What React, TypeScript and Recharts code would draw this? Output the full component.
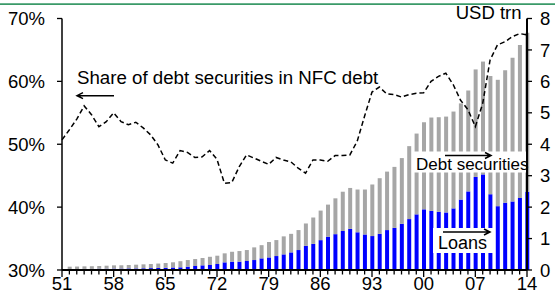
import React from 'react';
import { ComposedChart, Bar, Line, XAxis, YAxis } from 'recharts';

const FONT = '"Liberation Sans", Arial, sans-serif';

const years = [
  1951, 1952, 1953, 1954, 1955, 1956, 1957, 1958, 1959, 1960,
  1961, 1962, 1963, 1964, 1965, 1966, 1967, 1968, 1969, 1970,
  1971, 1972, 1973, 1974, 1975, 1976, 1977, 1978, 1979, 1980,
  1981, 1982, 1983, 1984, 1985, 1986, 1987, 1988, 1989, 1990,
  1991, 1992, 1993, 1994, 1995, 1996, 1997, 1998, 1999, 2000,
  2001, 2002, 2003, 2004, 2005, 2006, 2007, 2008, 2009, 2010,
  2011, 2012, 2013, 2014,
];

// Total NFC debt (loans + debt securities), USD trn
const totalDebt = [
  null, 0.106, 0.11, 0.116, 0.12, 0.127, 0.137, 0.148, 0.15, 0.159,
  0.169, 0.18, 0.19, 0.205, 0.222, 0.245, 0.28, 0.317, 0.349, 0.381,
  0.42, 0.455, 0.53, 0.58, 0.603, 0.635, 0.72, 0.79, 0.89, 0.952,
  1.07, 1.15, 1.27, 1.48, 1.67, 1.89, 2.08, 2.28, 2.49, 2.61,
  2.56, 2.56, 2.72, 2.92, 3.13, 3.28, 3.56, 3.94, 4.34, 4.7,
  4.85, 4.86, 4.88, 5.04, 5.3, 5.71, 6.38, 6.63, 6.17, 6.05,
  6.35, 6.75, 7.16, 7.55,
];

// Loans, USD trn
const loans = [
  null, 0.03, 0.03, 0.035, 0.035, 0.04, 0.04, 0.045, 0.045, 0.05,
  0.05, 0.055, 0.06, 0.065, 0.07, 0.08, 0.085, 0.106, 0.127, 0.148,
  0.159, 0.19, 0.243, 0.265, 0.265, 0.286, 0.317, 0.37, 0.4, 0.444,
  0.497, 0.56, 0.635, 0.77, 0.83, 0.95, 1.06, 1.14, 1.24, 1.31,
  1.2, 1.13, 1.08, 1.15, 1.27, 1.34, 1.47, 1.62, 1.77, 1.93,
  1.88, 1.85, 1.83, 1.96, 2.24, 2.5, 2.96, 3.04, 2.41, 2.03,
  2.14, 2.18, 2.29, 2.49,
];

// Share of debt securities in NFC debt, %
const share = [
  50.7, 52.3, 54.0, 56.1, 54.7, 52.8, 53.6, 55.0, 53.6, 53.1,
  53.5, 52.6, 51.5, 49.9, 47.5, 47.0, 49.0, 48.7, 47.9, 48.0,
  49.0, 47.6, 43.8, 43.9, 46.4, 48.3, 47.8, 47.3, 46.8, 47.9,
  47.5, 47.2, 46.2, 45.4, 47.5, 47.5, 47.3, 48.2, 48.2, 48.3,
  50.5, 54.5, 58.3, 59.1, 58.0, 57.9, 57.5, 57.9, 58.1, 58.2,
  60.0, 60.8, 61.3, 59.5, 57.0, 55.5, 52.8, 56.5, 63.4, 65.8,
  66.3, 67.1, 67.6, 67.4,
];

const xLabelYears = [1951, 1958, 1965, 1972, 1979, 1986, 1993, 2000, 2007, 2014];
const leftTicks = [30, 40, 50, 60, 70];
const rightTicks = [0, 1, 2, 3, 4, 5, 6, 7, 8];

const data = years.map((year, i) => ({
  year,
  loans: loans[i],
  securities: totalDebt[i] == null || loans[i] == null ? null : +(totalDebt[i]! - loans[i]!).toFixed(3),
  share: share[i],
}));

const XTick = (props: any) => {
  const { x, y, payload } = props;
  const v = payload.value as number;
  const major = xLabelYears.includes(v);
  return (
    <g>
      <line x1={x} x2={x} y1={y} y2={y + (major ? 7 : 4.5)} stroke="#000" strokeWidth={1.3} />
      {major && (
        <text x={x} y={y + 19.5} textAnchor="middle" fontSize={18.5} fontFamily={FONT} fill="#000">
          {String(v % 100).padStart(2, '0')}
        </text>
      )}
    </g>
  );
};

const arrowRight = (x1: number, x2: number, y: number) =>
  `M${x1},${y} L${x2},${y} M${x2 - 6},${y - 3} L${x2},${y} L${x2 - 6},${y + 3}`;
const arrowLeft = (x1: number, x2: number, y: number) =>
  `M${x2},${y} L${x1},${y} M${x1 + 6},${y - 3} L${x1},${y} L${x1 + 6},${y + 3}`;

export default function App() {
  return (
    <div style={{ position: 'absolute', left: 0, top: 0, width: 555, height: 304, background: '#fff', overflow: 'hidden' }}>
      <ComposedChart
        width={555}
        height={304}
        data={data}
        margin={{ top: 18.5, right: 0, bottom: 4, left: 0 }}
      >
        <XAxis
          dataKey="year"
          type="number"
          domain={[1951, 2014]}
          ticks={years}
          interval={0}
          height={30}
          tickSize={0}
          tickMargin={0}
          tick={<XTick />}
          axisLine={{ stroke: '#000', strokeWidth: 2 }}
          padding={{ left: 0, right: 0 }}
        />
        <YAxis
          yAxisId="pct"
          orientation="left"
          width={62}
          domain={[30, 70]}
          ticks={leftTicks}
          interval={0}
          tickFormatter={(v: number) => `${v}%`}
          tickSize={5}
          tickMargin={12}
          axisLine={{ stroke: '#000', strokeWidth: 1.5 }}
          tickLine={{ stroke: '#000', strokeWidth: 1.3 }}
          tick={{ fill: '#000', fontSize: 18.5, fontFamily: FONT }}
        />
        <YAxis
          yAxisId="usd"
          orientation="right"
          width={28}
          domain={[0, 8]}
          ticks={rightTicks}
          interval={0}
          tickSize={5}
          tickMargin={8}
          axisLine={{ stroke: '#000', strokeWidth: 2 }}
          tickLine={{ stroke: '#000', strokeWidth: 1.3 }}
          tick={{ fill: '#000', fontSize: 18.5, fontFamily: FONT }}
        />
        <Bar yAxisId="usd" dataKey="loans" stackId="s" fill="#0000ff" barSize={4} isAnimationActive={false} />
        <Bar yAxisId="usd" dataKey="securities" stackId="s" fill="#a6a6a6" barSize={4} isAnimationActive={false} />
        <Line
          yAxisId="pct"
          dataKey="share"
          type="linear"
          stroke="#000"
          strokeWidth={1.5}
          strokeDasharray="5 3"
          dot={false}
          activeDot={false}
          isAnimationActive={false}
        />
      </ComposedChart>
      <svg
        width={555}
        height={304}
        style={{ position: 'absolute', left: 0, top: 0, pointerEvents: 'none' }}
        fontFamily={FONT}
      >
        <line x1={0} x2={555} y1={4.2} y2={4.2} stroke="#3a9a68" strokeWidth={1.7} />
        <text x={521.5} y={18.5} textAnchor="end" fontSize={18.5} fill="#000">USD trn</text>
        <text x={77} y={84} fontSize={18.7} fill="#000">Share of debt securities in NFC debt</text>
        <path d={arrowLeft(77, 114, 95.7)} stroke="#000" strokeWidth={1.5} fill="none" />
        <rect x={412} y={151.5} width={114} height={21} fill="#fff" />
        <path d={arrowRight(445, 491, 155.5)} stroke="#000" strokeWidth={1.5} fill="none" />
        <text x={416} y={170} fontSize={17} fill="#000">Debt securities</text>
        <rect x={433} y={228} width={60} height={25} fill="#fff" />
        <path d={arrowRight(443, 490, 232)} stroke="#000" strokeWidth={1.5} fill="none" />
        <text x={438} y={249} fontSize={18} fill="#000">Loans</text>
      </svg>
    </div>
  );
}
